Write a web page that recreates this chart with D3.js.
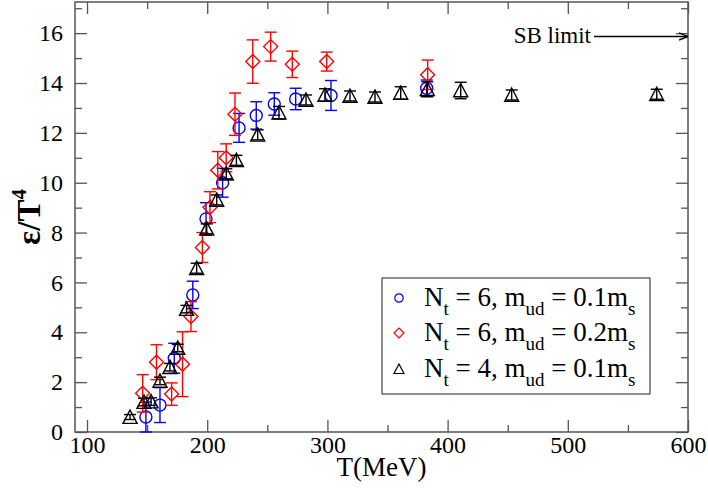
<!DOCTYPE html>
<html>
<head>
<meta charset="utf-8">
<script src="https://cdn.jsdelivr.net/npm/d3@7"></script>
<style>
  html, body { margin: 0; padding: 0; background: #fff; }
  svg text { font-family: "Liberation Serif", "Times New Roman", serif; fill: #000; }
</style>
</head>
<body>
<div id="chart"></div>
<script>
// Nt = 6, mud = 0.1 ms (blue circles)
const circT = [149, 160.7, 172.6, 188, 199, 212.8, 226.5, 240.8, 255.8, 273.6, 303, 382.6];
const circV = [0.6, 1.08, 2.96, 5.5, 8.55, 10.0, 12.2, 12.7, 13.16, 13.36, 13.5, 13.79];
const circE = [0.6, 0.7, 0.6, 0.55, 0.65, 0.58, 0.58, 0.55, 0.45, 0.43, 0.6, 0.33];

// Nt = 6, mud = 0.2 ms (red diamonds)
const diamT = [146.3, 157.8, 170.4, 179.5, 186.5, 196, 202.3, 208.8, 215.8, 223.1, 237.9, 252.8, 270.8, 299.4, 383.4];
const diamV = [1.55, 2.8, 1.52, 2.72, 4.63, 7.4, 9.02, 10.5, 11.0, 12.75, 14.86, 15.46, 14.75, 14.86, 14.33];
const diamE = [0.75, 0.7, 0.45, 1.3, 0.6, 0.6, 0.62, 0.75, 0.56, 0.85, 0.87, 0.58, 0.53, 0.38, 0.59];

// Nt = 4, mud = 0.1 ms (black triangles)
const triT = [135.8, 147.4, 153.3, 160.7, 169, 175.5, 182.8, 191.2, 199.6, 207.9, 215.9, 224.3, 242, 259.7, 282.2, 298, 318.8, 339.6, 361, 383.1, 410.9, 453.3, 574];
const triV = [0.6, 1.2, 1.22, 2.05, 2.6, 3.37, 4.93, 6.57, 8.15, 9.31, 10.36, 10.9, 11.92, 12.81, 13.32, 13.52, 13.48, 13.44, 13.6, 13.75, 13.7, 13.52, 13.55];
const triE = [0.1, 0.15, 0.15, 0.15, 0.15, 0.15, 0.15, 0.2, 0.2, 0.2, 0.2, 0.2, 0.2, 0.25, 0.2, 0.25, 0.2, 0.2, 0.25, 0.3, 0.33, 0.2, 0.2];

const xTicks = [100, 200, 300, 400, 500, 600];
const yTicks = [0, 2, 4, 6, 8, 10, 12, 14, 16];
const sbLimit = 15.87;

const width = 708, height = 488;
const margin = { left: 75, right: 20, top: 2, bottom: 56 };

const svg = d3.select('#chart').append('svg')
    .attr('width', width)
    .attr('height', height);

const x = d3.scaleLinear().domain([90, 600]).range([margin.left, width - margin.right]);
const y = d3.scaleLinear().domain([0, 17.25]).range([height - margin.bottom, margin.top]);

const frameColor = '#555';

// ticks on all four sides, pointing inward
const xMinor = d3.range(100, 601, 50).filter(v => v % 100 !== 0);
const yMinor = d3.range(1, 17.1, 2);

function addAxis(axis, transform, major, minor, label) {
    const g = svg.append('g').attr('transform', transform);
    g.call(axis.tickValues(major).tickSize(12).tickFormat(label ? d3.format('d') : ''));
    g.call(gg => gg.select('.domain').remove());
    g.selectAll('.tick line').attr('stroke', frameColor).attr('stroke-width', 1.3);
    g.selectAll('.tick text').attr('font-size', 24).style('font-family', '"Liberation Serif", serif');
    const m = svg.append('g').attr('transform', transform);
    m.call(axis.tickValues(minor).tickSize(7).tickFormat(''));
    m.call(gg => gg.select('.domain').remove());
    m.selectAll('.tick line').attr('stroke', frameColor).attr('stroke-width', 1.3);
    return g;
}

const x0 = y(0), yTop = y(17.25);
const bx = addAxis(d3.axisTop(x), `translate(0,${x0})`, xTicks, xMinor, true);
bx.selectAll('.tick text').attr('y', 4).attr('dy', '0.71em');
addAxis(d3.axisBottom(x), `translate(0,${yTop})`, xTicks, xMinor, false);
const ly = addAxis(d3.axisRight(y), `translate(${x(90)},0)`, yTicks, yMinor, true);
ly.selectAll('.tick text').attr('x', -12).attr('text-anchor', 'end');
addAxis(d3.axisLeft(y), `translate(${x(600)},0)`, yTicks, yMinor, false);

svg.append('rect')
    .attr('x', x(90)).attr('y', yTop)
    .attr('width', x(600) - x(90)).attr('height', x0 - yTop)
    .attr('fill', 'none').attr('stroke', frameColor).attr('stroke-width', 1.5);

// axis titles
svg.append('text')
    .attr('x', (x(90) + x(600)) / 2).attr('y', 476)
    .attr('text-anchor', 'middle').attr('font-size', 27)
    .text('T(MeV)');

const yl = svg.append('text')
    .attr('transform', `translate(40,${(y(0) + y(17.25)) / 2}) rotate(-90)`)
    .attr('text-anchor', 'middle').attr('font-size', 33).attr('font-weight', 'bold');
yl.append('tspan').text('ε/T');
yl.append('tspan').attr('dy', -14).attr('font-size', 21).text('4');

// SB limit arrow
svg.append('defs').append('marker')
    .attr('id', 'arrow').attr('viewBox', '0 0 10 10')
    .attr('refX', 10).attr('refY', 5)
    .attr('markerWidth', 9).attr('markerHeight', 9)
    .attr('markerUnits', 'userSpaceOnUse')
    .attr('orient', 'auto')
    .append('path').attr('d', 'M0,1 L10,5 L0,9').attr('fill', 'none').attr('stroke', '#000').attr('stroke-width', 1.5);

svg.append('line')
    .attr('x1', 594).attr('x2', x(600))
    .attr('y1', y(sbLimit)).attr('y2', y(sbLimit))
    .attr('stroke', '#000').attr('stroke-width', 1.5)
    .attr('marker-end', 'url(#arrow)');
svg.append('text')
    .attr('x', 591).attr('y', y(sbLimit) + 7)
    .attr('text-anchor', 'end').attr('font-size', 23)
    .text('SB limit');

// symbol shapes
function shapePath(type, s) {
    if (type === 'circle') return `M${-s},0 A${s},${s} 0 1,0 ${s},0 A${s},${s} 0 1,0 ${-s},0 Z`;
    if (type === 'diamond') return `M0,${-s} L${s},0 L0,${s} L${-s},0 Z`;
    return `M0,${-s} L${s},${s * 0.9} L${-s},${s * 0.9} Z`;
}

const series = [
    { T: circT, V: circV, E: circE, color: '#0000ff', type: 'circle', size: 6, legSize: 4.2 },
    { T: diamT, V: diamV, E: diamE, color: '#ff0000', type: 'diamond', size: 7, legSize: 5 },
    { T: triT, V: triV, E: triE, color: '#000000', type: 'triangle', size: 7, legSize: 5 }
];

series.forEach(s => {
    const data = s.T.map((t, i) => ({ t: t, v: s.V[i], e: s.E[i] }));
    const g = svg.append('g');
    const eb = g.selectAll('.err').data(data).enter().append('g')
        .attr('stroke', s.color).attr('stroke-width', 1.4).attr('fill', 'none');
    eb.append('line')
        .attr('x1', d => x(d.t)).attr('x2', d => x(d.t))
        .attr('y1', d => y(d.v + d.e)).attr('y2', d => y(d.v - d.e));
    eb.append('line')
        .attr('x1', d => x(d.t) - 6).attr('x2', d => x(d.t) + 6)
        .attr('y1', d => y(d.v + d.e)).attr('y2', d => y(d.v + d.e));
    eb.append('line')
        .attr('x1', d => x(d.t) - 6).attr('x2', d => x(d.t) + 6)
        .attr('y1', d => y(d.v - d.e)).attr('y2', d => y(d.v - d.e));
    g.selectAll('.sym').data(data).enter().append('path')
        .attr('transform', d => `translate(${x(d.t)},${y(d.v)})`)
        .attr('d', shapePath(s.type, s.size))
        .attr('fill', 'none').attr('stroke', s.color).attr('stroke-width', 1.4);
});

// legend
const legX = 382, legY = 278;
svg.append('rect')
    .attr('x', legX).attr('y', legY).attr('width', 268).attr('height', 116)
    .attr('fill', '#fff').attr('stroke', '#444').attr('stroke-width', 1.2);

const legendNt = ['6', '6', '4'];
const legendMass = ['0.1', '0.2', '0.1'];
const legendRows = [306, 341, 377];

series.forEach((s, i) => {
    const base = legendRows[i];
    svg.append('path')
        .attr('transform', `translate(399,${base - 8})`)
        .attr('d', shapePath(s.type, s.legSize))
        .attr('fill', 'none').attr('stroke', s.color).attr('stroke-width', 1.2);
    const t = svg.append('text').attr('x', 424).attr('y', base).attr('font-size', 27);
    t.append('tspan').text('N');
    t.append('tspan').attr('dy', 9).attr('font-size', 19).text('t');
    t.append('tspan').attr('dy', -9).text(` = ${legendNt[i]}, m`);
    t.append('tspan').attr('dy', 9).attr('font-size', 19).text('ud');
    t.append('tspan').attr('dy', -9).text(` = ${legendMass[i]}m`);
    t.append('tspan').attr('dy', 9).attr('font-size', 19).text('s');
});
</script>
</body>
</html>
